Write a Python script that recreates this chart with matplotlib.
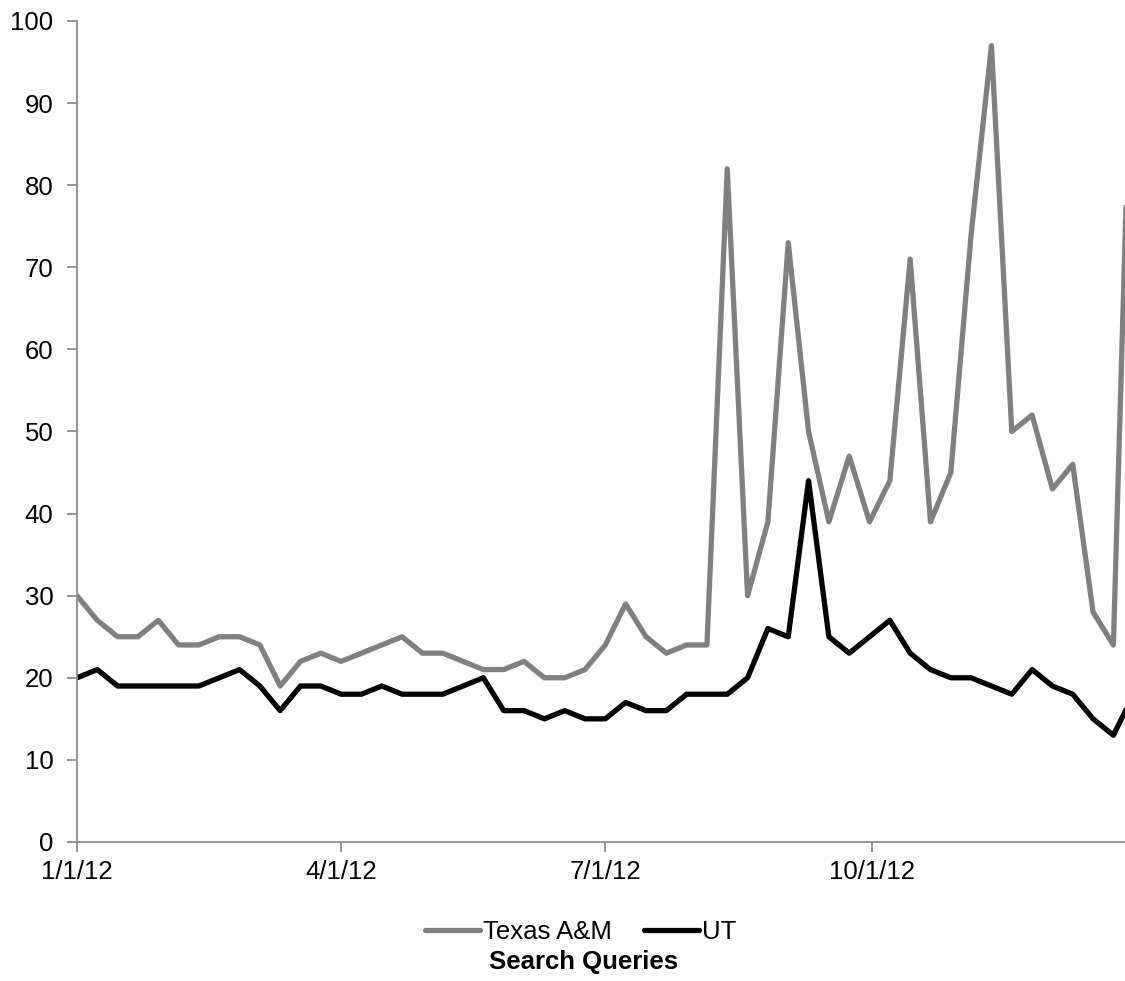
import matplotlib
matplotlib.use("Agg")
import matplotlib.pyplot as plt
import matplotlib.dates as mdates
import pandas as pd

plt.rcParams["font.family"] = ["Liberation Sans", "DejaVu Sans"]

# weekly search query index, first week starting 1/1/12
weeks = pd.date_range("2012-01-01", periods=53, freq="7D")

texas_am = [
    30, 27, 25, 25, 27, 24, 24, 25, 25, 24, 19, 22, 23, 22,
    23, 24, 25, 23, 23, 22, 21, 21, 22, 20, 20, 21, 24, 29,
    25, 23, 24, 24, 82, 30, 39, 73, 50, 39, 47, 39, 44, 71,
    39, 45, 74, 97, 50, 52, 43, 46, 28, 24, 110,
]
ut = [
    20, 21, 19, 19, 19, 19, 19, 20, 21, 19, 16, 19, 19, 18,
    18, 19, 18, 18, 18, 19, 20, 16, 16, 15, 16, 15, 15, 17,
    16, 16, 18, 18, 18, 20, 26, 25, 44, 25, 23, 25, 27, 23,
    21, 20, 20, 19, 18, 21, 19, 18, 15, 13, 18,
]

tick_dates = pd.to_datetime(["2012-01-01", "2012-04-01", "2012-07-01", "2012-10-01"])
tick_labels = ["1/1/12", "4/1/12", "7/1/12", "10/1/12"]
y_ticks = [0, 10, 20, 30, 40, 50, 60, 70, 80, 90, 100]

fig = plt.figure(figsize=(11.25, 9.81), dpi=100)
ax = fig.add_axes([0.0684, 0.1417, 0.9316, 0.8369])

ax.plot(weeks, texas_am, color="#808080", lw=3.8, label="Texas A&M",
        solid_joinstyle="round", solid_capstyle="round")
ax.plot(weeks, ut, color="black", lw=3.8, label="UT",
        solid_joinstyle="round", solid_capstyle="round")

ax.set_ylim(0, 100)
ax.set_xlim(pd.Timestamp("2012-01-01"), pd.Timestamp("2012-12-27"))
ax.set_yticks(y_ticks)
ax.set_xticks(mdates.date2num(tick_dates))
ax.set_xticklabels(tick_labels)

# spines and ticks
for side in ["top", "right"]:
    ax.spines[side].set_visible(False)
for side in ["left", "bottom"]:
    ax.spines[side].set_color("#8c8c8c")
    ax.spines[side].set_linewidth(1.3)
ax.tick_params(axis="both", colors="#8c8c8c", width=1.3, length=7,
               labelsize=18.5, labelcolor="black")
ax.tick_params(axis="x", pad=6)
ax.tick_params(axis="y", pad=10)

fig.legend(loc="center", bbox_to_anchor=(0.516, 0.050), ncol=2, frameon=False,
           fontsize=18.5, handlelength=2.15, handletextpad=0.1, columnspacing=1.25)
fig.text(0.519, 0.019, "Search Queries", ha="center", va="center",
         fontsize=18.5, fontweight="bold")

fig.savefig("out.png", dpi=100)
